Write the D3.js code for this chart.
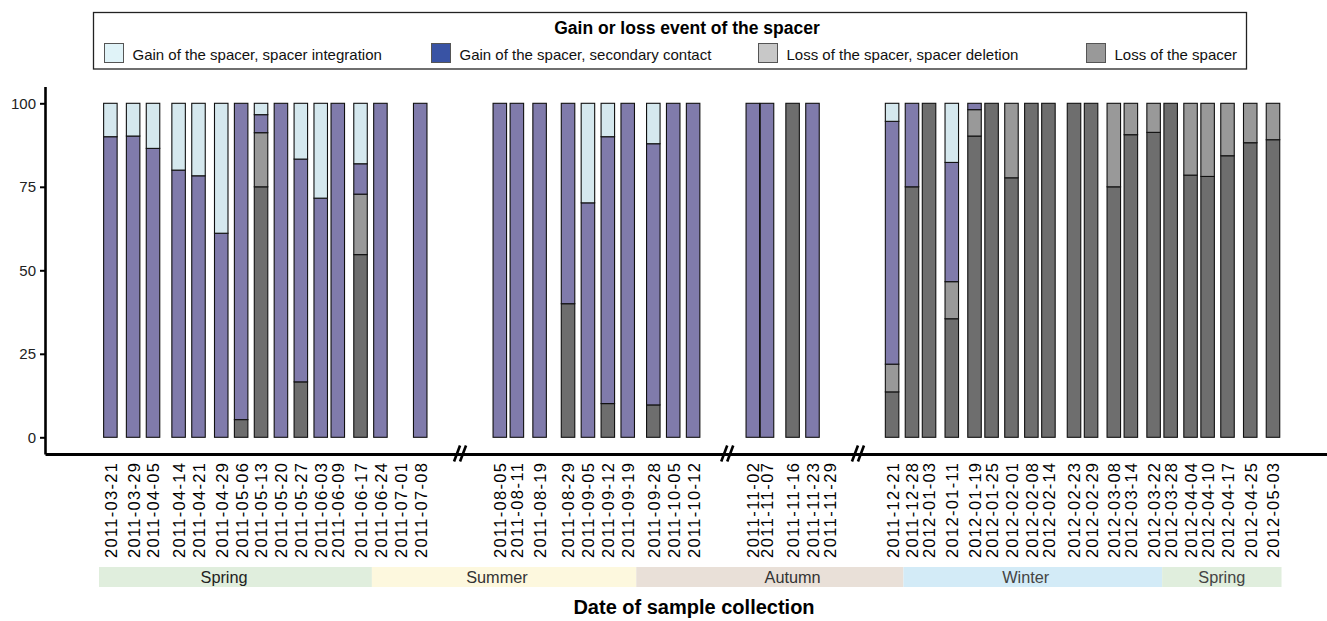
<!DOCTYPE html>
<html>
<head>
<meta charset="utf-8">
<script src="https://cdn.jsdelivr.net/npm/d3@7"></script>
<style>
  body { margin: 0; background: #ffffff; }
  text { font-family: "Liberation Sans", Arial, Helvetica, sans-serif; }
</style>
</head>
<body>
<svg id="chart" width="1327" height="621"></svg>
<script>
// ---------------- DATA ----------------
const dates = [
  "2011-03-21","2011-03-29","2011-04-05","2011-04-14","2011-04-21","2011-04-29","2011-05-06",
  "2011-05-13","2011-05-20","2011-05-27","2011-06-03","2011-06-09","2011-06-17","2011-06-24",
  "2011-07-01","2011-07-08",
  "2011-08-05","2011-08-11","2011-08-19","2011-08-29","2011-09-05","2011-09-12","2011-09-19",
  "2011-09-28","2011-10-05","2011-10-12",
  "2011-11-02","2011-11-07","2011-11-16","2011-11-23","2011-11-29",
  "2011-12-21","2011-12-28","2012-01-03","2012-01-11","2012-01-19","2012-01-25","2012-02-01",
  "2012-02-08","2012-02-14","2012-02-23","2012-02-29","2012-03-08","2012-03-14","2012-03-22",
  "2012-03-28","2012-04-04","2012-04-10","2012-04-17","2012-04-25","2012-05-03"
];
// Loss of the spacer (bottom of stack)
const lossSpacer = [
  0,0,0,0,0,0,5.3,
  75,0,16.6,0,0,54.7,0,
  0,0,
  0,0,0,40,0,10.1,0,
  9.7,0,0,
  0,0,100,0,0,
  13.6,75,100,35.5,90.2,100,77.7,
  100,100,100,100,75,90.6,91.3,
  100,78.5,78.1,84.3,88.2,89.1
];
// Loss of the spacer, spacer deletion
const lossDeletion = [
  0,0,0,0,0,0,0,
  16.2,0,0,0,0,18.1,0,
  0,0,
  0,0,0,0,0,0,0,
  0,0,0,
  0,0,0,0,0,
  8.3,0,0,11.1,7.9,0,22.3,
  0,0,0,0,25,9.4,8.7,
  0,21.5,21.9,15.7,11.8,10.9
];
// Gain of the spacer, secondary contact
const gainSecondary = [
  90,90.2,86.5,80,78.3,61.1,94.7,
  5.4,100,66.7,71.6,100,9.1,100,
  0,100,
  100,100,100,60,70.2,79.9,100,
  78.2,100,100,
  100,100,0,100,0,
  72.7,25,0,35.7,1.9,0,0,
  0,0,0,0,0,0,0,
  0,0,0,0,0,0
];
// Gain of the spacer, spacer integration (top of stack)
const gainIntegration = [
  10,9.8,13.5,20,21.7,38.9,0,
  3.4,0,16.7,28.4,0,18.1,0,
  0,0,
  0,0,0,0,29.8,10,0,
  12.1,0,0,
  0,0,0,0,0,
  5.4,0,0,17.7,0,0,0,
  0,0,0,0,0,0,0,
  0,0,0,0,0,0
];
const seriesKeys = ["loss", "deletion", "secondary", "integration"];
const legendOrder = ["integration", "secondary", "deletion", "loss"];
const legendLabels = [
  "Gain of the spacer, spacer integration",
  "Gain of the spacer, secondary contact",
  "Loss of the spacer, spacer deletion",
  "Loss of the spacer"
];
const legendTitle = "Gain or loss event of the spacer";
const yTicks = [0, 25, 50, 75, 100];
const seasonNames = ["Spring", "Summer", "Autumn", "Winter", "Spring"];
const seasonStarts = ["2011-03-17", "2011-06-21", "2011-09-22", "2011-12-25", "2012-03-25"];
const seasonEnds = ["2011-06-21", "2011-09-22", "2011-12-25", "2012-03-25", "2012-05-06"];
const seasonLabelAt = ["2011-04-30", "2011-08-04", "2011-11-16", "2012-02-06", "2012-04-15"];
const axisBreaks = ["2011-07-22", "2011-10-24", "2011-12-09"];
const xTitle = "Date of sample collection";

// ---------------- STYLES ----------------
const barColor = { integration: "#d5e8ee", secondary: "#807bab", deletion: "#999999", loss: "#6e6e6e" };
const keyColor = { integration: "#e0f3f8", secondary: "#3953a4", deletion: "#c8c8c8", loss: "#999999" };
const seasonFill = ["#e0eedd", "#fdf8de", "#e9e0d8", "#d3ebf7", "#e0eedd"];
const seasonText = ["#222222", "#333333", "#333333", "#444444", "#444444"];

// ---------------- BUILD ----------------
const parse = d3.utcParse("%Y-%m-%d");
const fmt = d3.utcFormat("%Y-%m-%d");
const rows = dates.map((d, i) => ({
  date: parse(d),
  loss: lossSpacer[i],
  deletion: lossDeletion[i],
  secondary: gainSecondary[i],
  integration: gainIntegration[i]
}));

const svg = d3.select("#chart");
const panel = { left: 45, right: 1327, top: 86.6, bottom: 454 };

const x = d3.scaleUtc()
  .domain([parse("2011-02-26"), parse("2012-05-22")])
  .range([panel.left, panel.right]);
const y = d3.scaleLinear()
  .domain([-5, 105])
  .range([panel.bottom, panel.top]);

const barW = 13.5;
const stacked = d3.stack().keys(seriesKeys)(rows);

const barsG = svg.append("g");
stacked.forEach(layer => {
  barsG.append("g")
    .selectAll("rect")
    .data(layer.filter(d => d[1] - d[0] > 0))
    .join("rect")
    .attr("x", d => x(d.data.date) - barW / 2)
    .attr("y", d => y(d[1]))
    .attr("width", barW)
    .attr("height", d => y(d[0]) - y(d[1]))
    .attr("fill", barColor[layer.key])
    .attr("stroke", "#111")
    .attr("stroke-width", 1.1);
});

// Y axis
const yAxis = svg.append("g")
  .attr("transform", `translate(${panel.left},0)`)
  .call(d3.axisLeft(y).tickValues(yTicks).tickSize(5).tickPadding(4).tickSizeOuter(0));
yAxis.select(".domain").attr("stroke", "#000").attr("stroke-width", 2.6);
yAxis.selectAll(".tick line").attr("stroke", "#000").attr("stroke-width", 2);
yAxis.selectAll(".tick text")
  .attr("font-size", 15)
  .attr("fill", "#222")
  .attr("font-family", '"Liberation Sans", Arial, sans-serif');

// X axis
const xAxis = svg.append("g")
  .attr("transform", `translate(0,${panel.bottom})`)
  .call(d3.axisBottom(x).tickValues(rows.map(r => r.date)).tickSize(0).tickSizeOuter(0).tickFormat(fmt));
xAxis.select(".domain").attr("stroke", "#000").attr("stroke-width", 3);
xAxis.selectAll(".tick text")
  .attr("transform", "rotate(-90)")
  .attr("text-anchor", "end")
  .attr("x", -9)
  .attr("y", 0)
  .attr("dy", "0.36em")
  .attr("font-size", 16.5)
  .attr("fill", "#000")
  .attr("font-family", '"Liberation Sans", Arial, sans-serif')
  .attr("textLength", 95)
  .attr("lengthAdjust", "spacing");

// Axis breaks "//"
const brk = svg.append("g");
axisBreaks.forEach(b => {
  const cx = x(parse(b));
  [-3, 3].forEach(o => {
    brk.append("line")
      .attr("x1", cx + o - 3).attr("y1", panel.bottom + 7.5)
      .attr("x2", cx + o + 3).attr("y2", panel.bottom - 8.5)
      .attr("stroke", "#000").attr("stroke-width", 2.6);
  });
});

// Season strip
const seasonG = svg.append("g");
seasonNames.forEach((name, i) => {
  const x0 = x(parse(seasonStarts[i])), x1 = x(parse(seasonEnds[i]));
  seasonG.append("rect")
    .attr("x", x0).attr("y", 567).attr("width", x1 - x0).attr("height", 20)
    .attr("fill", seasonFill[i]);
  seasonG.append("text")
    .attr("x", x(parse(seasonLabelAt[i]))).attr("y", 583)
    .attr("text-anchor", "middle")
    .attr("font-size", 16.3)
    .attr("fill", seasonText[i])
    .text(name);
});

// X title
svg.append("text")
  .attr("x", 694).attr("y", 614)
  .attr("text-anchor", "middle")
  .attr("font-size", 20)
  .attr("font-weight", "bold")
  .attr("fill", "#000")
  .text(xTitle);

// Legend
const lg = svg.append("g");
lg.append("rect")
  .attr("x", 93.5).attr("y", 12.5).attr("width", 1153).attr("height", 56.5)
  .attr("fill", "#fff").attr("stroke", "#222").attr("stroke-width", 1.3);
lg.append("text")
  .attr("x", 687).attr("y", 34)
  .attr("text-anchor", "middle")
  .attr("font-size", 17.5)
  .attr("font-weight", "bold")
  .attr("fill", "#000")
  .text(legendTitle);
const keyX = [104, 431, 758, 1086];
legendOrder.forEach((k, i) => {
  lg.append("rect")
    .attr("x", keyX[i] + 0.5).attr("y", 43.5).attr("width", 19).attr("height", 19)
    .attr("fill", keyColor[k]).attr("stroke", "#555").attr("stroke-width", 1);
  lg.append("text")
    .attr("x", keyX[i] + 28.5).attr("y", 60)
    .attr("font-size", 15)
    .attr("fill", "#111")
    .text(legendLabels[i]);
});
</script>
</body>
</html>
